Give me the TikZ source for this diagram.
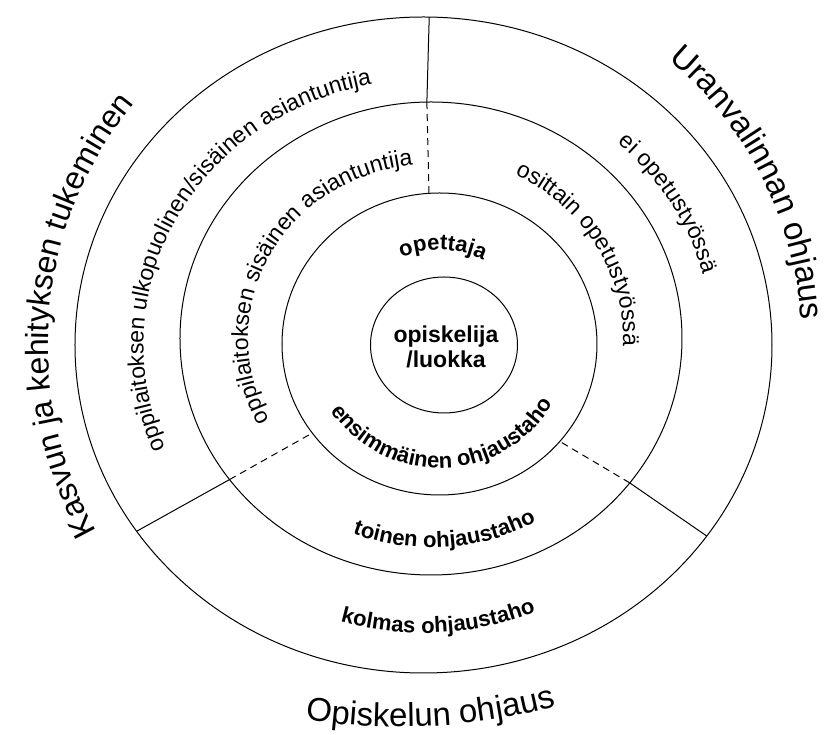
\documentclass[tikz,border=0pt]{standalone}
\usepackage{fontspec}
\setmainfont{Liberation Sans}
\usetikzlibrary{calc,shapes.geometric,decorations.text}

\newcommand{\headfont}{\fontsize{33}{40}\selectfont}
\newcommand{\sidefont}{\fontsize{23}{28}\selectfont}
\newcommand{\levelfont}{\bfseries\fontsize{22}{26}\selectfont}
\newcommand{\corefont}{\bfseries\fontsize{23}{25}\selectfont}

\begin{document}
\begin{tikzpicture}[x=1pt,y=1pt,line width=1pt]
    % `ring' is used for the four (slightly flattened) circles.
    % `divider' is the dashed part of the three spokes.
    % `arctext' sets a label along an arc, clockwise = tops outward.
    \tikzstyle{ring} = [draw,ellipse,inner sep=0pt,outer sep=0pt]
    \tikzstyle{divider} = [dash pattern=on 7pt off 5pt]
    \tikzstyle{arctext} = [decorate,decoration={text along path,text align=center}]
    %
    \useasboundingbox (-430,-390) rectangle (401,345);
    \node[ring,minimum width=147pt,minimum height=136pt] (core) at (14,0) {};
    \node[ring,minimum width=315pt,minimum height=302pt] (first) at (9.5,1) {};
    \node[ring,minimum width=502pt,minimum height=473pt] (second) at (1,6.5) {};
    \node[ring,minimum width=697pt,minimum height=656pt] (third) at (-6.5,0) {};
    \node[font=\corefont,align=center] (pupil) at (16,-2) {opiskelija\\/luokka};
    %
    % Spokes: solid in the outer ring, dashed in the middle one.
    \draw (third.89) -- (second.91);
    \draw[divider] (second.91) -- (first.94);
    \draw (third.213) -- (second.215);
    \draw[divider] (second.215) -- (first.215);
    \draw (third.326) -- (second.324);
    \draw[divider] (second.324) -- (first.321);
    %
    % Labels inside the rings.
    \path[arctext,decoration={text={|\levelfont|opettaja}}]
      ($(first)+(150:98pt and 94pt)$) arc[start angle=150,end angle=26,x radius=98pt,y radius=94pt];
    \path[arctext,decoration={text={|\levelfont|ensimmäinen ohjaustaho}}]
      ($(first)+(190:129pt and 124pt)$) arc[start angle=190,end angle=354,x radius=129pt,y radius=124pt];
    \path[arctext,decoration={text={|\levelfont|toinen ohjaustaho}}]
      ($(second)+(214:220pt and 209pt)$) arc[start angle=214,end angle=334,x radius=220pt,y radius=209pt];
    \path[arctext,decoration={text={|\levelfont|kolmas ohjaustaho}}]
      ($(third)+(233:300pt and 288pt)$) arc[start angle=233,end angle=313,x radius=300pt,y radius=288pt];
    \path[arctext,decoration={text={|\sidefont|oppilaitoksen sisäinen asiantuntija}}]
      ($(second)+(222:183pt and 174pt)$) arc[start angle=222,end angle=82,x radius=183pt,y radius=174pt];
    \path[arctext,decoration={text={|\sidefont|oppilaitoksen ulkopuolinen/sisäinen asiantuntija}}]
      ($(third)+(212:280pt and 265pt)$) arc[start angle=212,end angle=92,x radius=280pt,y radius=265pt];
    \path[arctext,decoration={text={|\sidefont|osittain opetustyössä}}]
      ($(second)+(80:192pt and 182pt)$) arc[start angle=80,end angle=-19,x radius=192pt,y radius=182pt];
    \path[arctext,decoration={text={|\sidefont|ei opetustyössä}}]
      ($(third)+(70:290pt and 272pt)$) arc[start angle=70,end angle=-8,x radius=290pt,y radius=272pt];
    %
    % Headings outside the outer ring.
    \path[arctext,decoration={text={|\fontsize{32}{38}\selectfont|Kasvun ja kehityksen tukeminen}}]
      (222:382pt) arc[start angle=222,end angle=128,radius=382pt];
    \path[arctext,decoration={text={|\headfont|Uranvalinnan ohjaus}}]
      (65:372pt) arc[start angle=65,end angle=-11,radius=372pt];
    \path[arctext,decoration={text={|\headfont|Opiskelun ohjaus}}]
      ($(-30,218)+(250:600pt)$) arc[start angle=250,end angle=296,radius=600pt];
\end{tikzpicture}
\end{document}
